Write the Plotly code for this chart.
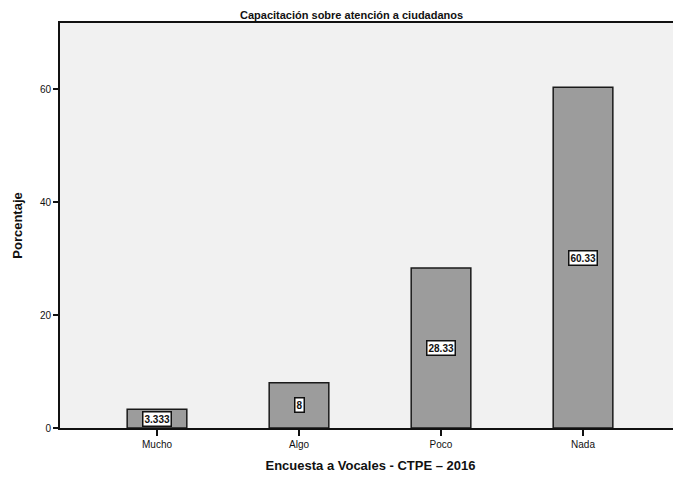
import plotly.graph_objects as go

categories = ["Mucho", "Algo", "Poco", "Nada"]
values = [3.333, 8, 28.33, 60.33]
value_labels = ["3.333", "8", "28.33", "60.33"]
y_ticks = [0, 20, 40, 60]

title_text = "Capacitación sobre atención a ciudadanos"
x_title = "Encuesta a Vocales - CTPE – 2016"
y_title = "Porcentaje"

fig = go.Figure()
fig.add_trace(go.Bar(
    x=categories, y=values,
    marker=dict(color="#9c9c9c", line=dict(color="#1a1a1a", width=1.5)),
    width=0.42,
    hoverinfo="skip",
))

for c, v, lab in zip(categories, values, value_labels):
    fig.add_annotation(
        x=c, y=v / 2, text="<b>" + lab + "</b>", showarrow=False,
        font=dict(family="Liberation Sans", size=10, color="#111"),
        bgcolor="white", bordercolor="#111", borderwidth=1.5, borderpad=1,
    )

fig.add_annotation(
    xref="paper", yref="paper", x=0.47, y=1, yanchor="bottom", yshift=0,
    text="<b>" + title_text + "</b>", showarrow=False,
    font=dict(family="Liberation Sans", size=11, color="#111"),
)

fig.update_layout(
    width=673, height=483,
    margin=dict(l=52, r=0, t=15, b=63),
    paper_bgcolor="white",
    plot_bgcolor="#f1f1f1",
    showlegend=False,
    font=dict(family="Liberation Sans", color="#111"),
    xaxis=dict(
        range=[-0.683, 3.69], automargin=False,
        showline=True, linecolor="#111", linewidth=2, mirror=True,
        ticks="outside", ticklen=6, tickcolor="#111", tickwidth=1.5,
        tickfont=dict(size=10), showgrid=False,
        title=dict(text="<b>" + x_title + "</b>", font=dict(size=13), standoff=12),
    ),
    yaxis=dict(
        range=[0, 71.7], automargin=False,
        tickvals=y_ticks,
        showline=True, linecolor="#111", linewidth=2,
        ticks="outside", ticklen=5, tickcolor="#111", tickwidth=1.5,
        tickfont=dict(size=10), showgrid=False, zeroline=False,
        title=dict(text="<b>" + y_title + "</b>", font=dict(size=13), standoff=14),
    ),
)

fig.write_html("out.html")
